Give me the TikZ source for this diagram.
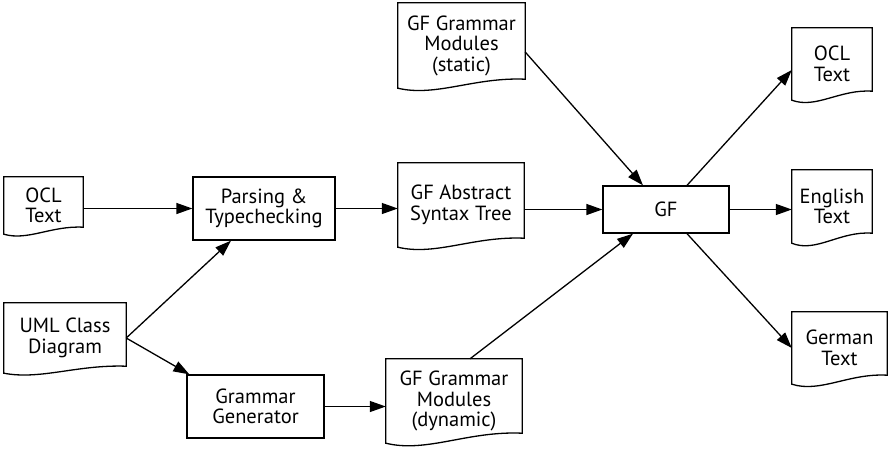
\documentclass[tikz,border=0pt]{standalone}
\usepackage{fontspec}
\setmainfont{PT Sans}
\usetikzlibrary{arrows.meta,calc}
\newcommand\docshape[2]{\draw[outline] (#1.north west) -- (#1.north east) -- ([yshift=#2pt]#1.south east) .. controls ($(#1.south west)!0.6!(#1.south east)+(0pt,1.25*#2pt)$) and ($(#1.south west)!0.3!(#1.south east)+(0pt,-#2pt)$) .. (#1.south west) -- cycle;}
\begin{document}
\begin{tikzpicture}[x=1pt,y=-1pt,
  txt/.style={inner sep=0pt, align=center, font=\fontsize{20.5}{20.5}\selectfont},
  box/.style={txt, draw, line width=1.3pt},
  doc/.style={txt},
  outline/.style={line width=1.3pt, line join=miter},
  arr/.style={-{Triangle[length=16pt,width=11pt]}, line width=1.3pt}]
\useasboundingbox (0,0) rectangle (889,451);
% document nodes
\node[doc, minimum width=79pt, minimum height=57pt] (oclin) at (43.5,205.5) {OCL\\Text};
\node[doc, minimum width=122pt, minimum height=70pt] (uml) at (65,338) {UML Class\\Diagram};
\node[doc, minimum width=127pt, minimum height=85pt] (static) at (461.5,45.5) {GF Grammar\\Modules\\(static)};
\node[doc, minimum width=126pt, minimum height=84pt] (ast) at (461,205) {GF Abstract\\Syntax Tree};
\node[doc, minimum width=136pt, minimum height=84pt] (dyn) at (454,401) {GF Grammar\\Modules\\(dynamic)};
\node[doc, minimum width=80pt, minimum height=72pt] (oclout) at (832,64) {OCL\\Text};
\node[doc, minimum width=80pt, minimum height=73pt] (eng) at (832,206.5) {English\\Text};
\node[doc, minimum width=95pt, minimum height=72pt] (ger) at (839.5,348) {German\\Text};
% process boxes
\node[box, minimum width=142pt, minimum height=63pt] (parse) at (264,208.5) {Parsing \&\\Typechecking};
\node[box, minimum width=137pt, minimum height=63pt] (gen) at (255.5,406.5) {Grammar\\Generator};
\node[box, minimum width=126pt, minimum height=47pt] (gf) at (666,209.5) {GF};
% document outlines
\docshape{oclin}{7}
\docshape{uml}{7}
\docshape{static}{9}
\docshape{ast}{9}
\docshape{dyn}{10}
\docshape{oclout}{9}
\docshape{eng}{10}
\docshape{ger}{9}
% connectors
\draw[arr] (oclin.east |- parse.west) -- (parse.west);
\draw[arr] (uml.east) -- ([xshift=-33pt]parse.south);
\draw[arr] (uml.east) -- ([xshift=3pt]gen.north west);
\draw[arr] (parse.east) -- (parse.east -| ast.west);
\draw[arr] (gen.east) -- (gen.east -| dyn.west);
\draw[arr] (ast.east |- gf.west) -- (gf.west);
\draw[arr] ([yshift=-6.5pt]static.east) -- ([xshift=-23pt]gf.north);
\draw[arr] ([xshift=16pt]dyn.north) -- ([xshift=-33pt]gf.south);
\draw[arr] ([xshift=21pt]gf.north) -- ([yshift=-6pt]oclout.west);
\draw[arr] (gf.east) -- (gf.east -| eng.west);
\draw[arr] ([xshift=21pt]gf.south) -- (ger.west);
\end{tikzpicture}
\end{document}
